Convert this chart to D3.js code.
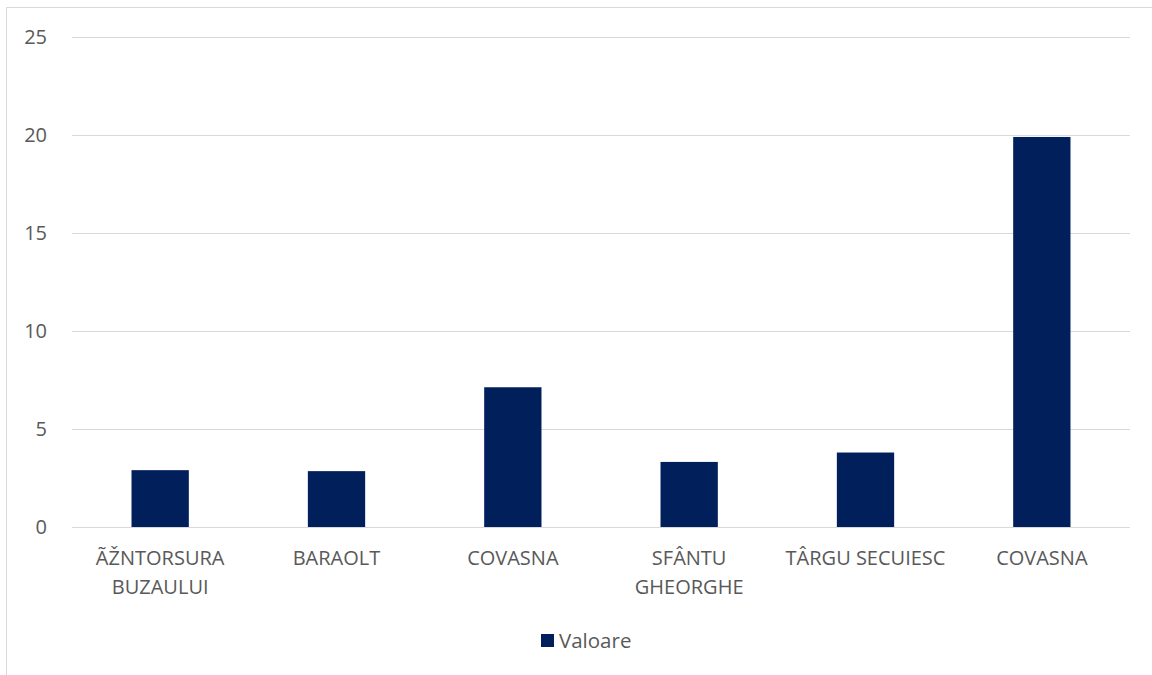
<!DOCTYPE html>
<html><head><meta charset="utf-8">
<script src="https://cdn.jsdelivr.net/npm/d3@7"></script>
<style>body{margin:0;background:#fff}svg{display:block}</style>
</head><body>
<svg id="c" width="1152" height="675"></svg>
<script>
const categories = [["ÃŽNTORSURA","BUZAULUI"],["BARAOLT"],["COVASNA"],["SFÂNTU","GHEORGHE"],["TÂRGU SECUIESC"],["COVASNA"]];
const values = [2.9, 2.85, 7.13, 3.32, 3.8, 19.9];
const yTicks = [0, 5, 10, 15, 20, 25];
const seriesName = "Valoare";

const svg = d3.select("#c");
const font = "'Open Sans', 'Liberation Sans', sans-serif";
const txt = "#595959";

svg.append("rect").attr("x",6.5).attr("y",7.5).attr("width",1160).attr("height",700)
  .attr("fill","#fff").attr("stroke","#d9d9d9").attr("stroke-width",1);

const L=72, R=1130, T=37, B=527;
const x = d3.scaleBand().domain(d3.range(values.length)).range([L,R]).paddingInner(0.675).paddingOuter(0.3375);
const y = d3.scaleLinear().domain([0,25]).range([B,T]);

svg.append("g").selectAll("line").data(yTicks).join("line")
  .attr("x1",L).attr("x2",R).attr("y1",d=>y(d)+0.5).attr("y2",d=>y(d)+0.5)
  .attr("stroke","#d9d9d9").attr("stroke-width",1);

svg.append("g").selectAll("text").data(yTicks).join("text")
  .attr("x",47).attr("y",d=>y(d)).attr("dy","0.36em").attr("text-anchor","end")
  .attr("font-family",font).attr("font-size",20).attr("fill",txt).text(d=>d);

svg.append("g").selectAll("rect").data(values).join("rect")
  .attr("x",(d,i)=>x(i)).attr("width",x.bandwidth())
  .attr("y",d=>y(d)).attr("height",d=>B-y(d)).attr("fill","#001f5b");

const step = (R-L)/values.length;
const lab = svg.append("g");
categories.forEach((lines,i)=>{
  const cx = L + step*(i+0.5);
  const t = lab.append("text").attr("x",cx).attr("y",565).attr("text-anchor","middle")
    .attr("font-family",font).attr("font-size",20).attr("fill",txt);
  lines.forEach((s,j)=>t.append("tspan").attr("x",cx).attr("dy",j?29:0).text(s));
});

const lg = svg.append("g");
lg.append("rect").attr("x",541).attr("y",634).attr("width",13).attr("height",13).attr("fill","#001f5b");
lg.append("text").attr("x",559).attr("y",641).attr("dy","0.36em").attr("font-family",font)
  .attr("font-size",20.5).attr("fill",txt).text(seriesName);
</script>
</body></html>
